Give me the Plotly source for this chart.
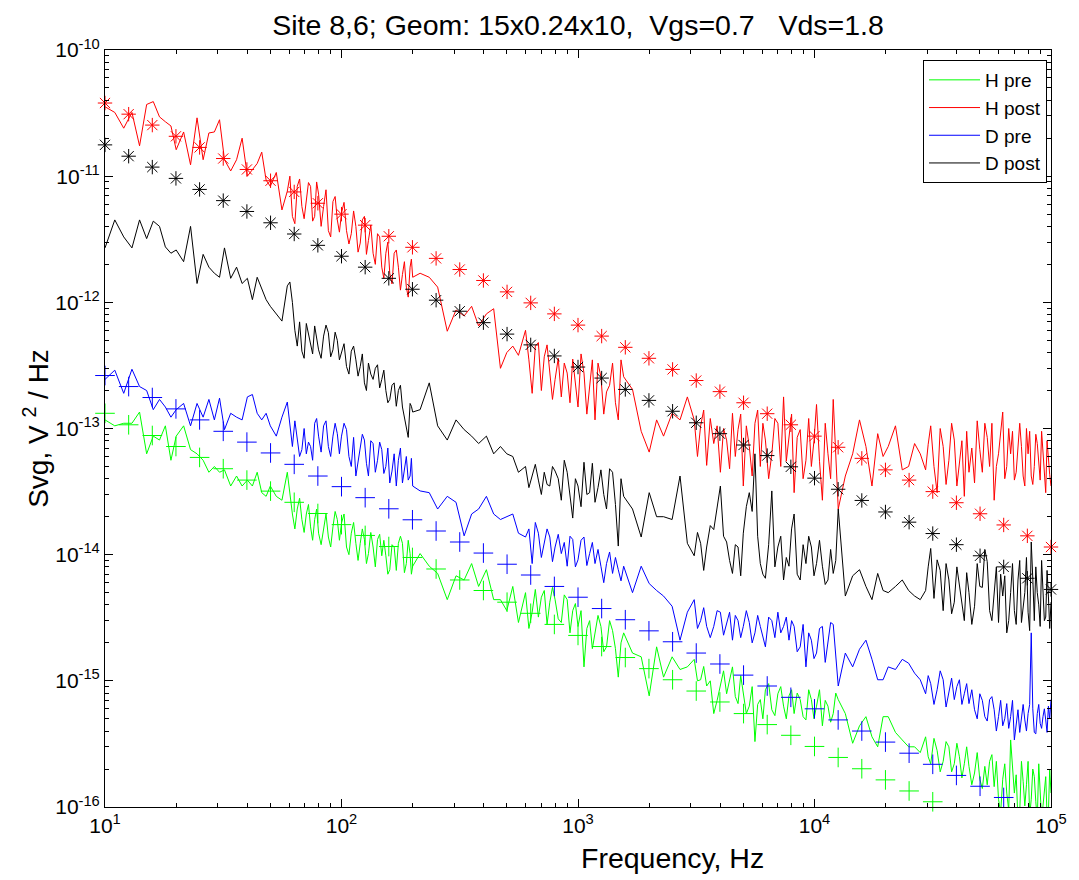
import plotly.graph_objects as go

# ---------------- data ----------------
freq_hz = [
    10, 11, 12, 13, 14, 15, 16, 17, 18, 19,
    20, 21.5, 23, 24.5, 26, 27.5, 29, 30.5, 32, 34,
    36, 38, 40, 42, 44, 46, 48, 50, 53, 56,
    59, 62, 65, 68, 71, 74, 77, 80, 84, 88,
    92, 96, 100, 105, 110, 115, 120, 125, 130, 136,
    142, 148, 154, 160, 167, 174, 181, 188, 195, 200,
    215, 235, 255, 280, 305, 330, 355, 380, 410, 440,
    470, 500, 530, 560, 600, 640, 680, 720, 760, 800,
    850, 900, 950, 1000, 1060, 1120, 1180, 1250, 1320, 1400,
    1480, 1560, 1700, 1850, 2000, 2150, 2300, 2500, 2700, 2900,
    3100, 3300, 3500, 3750, 4000, 4250, 4500, 4750, 5000, 5300,
    5600, 5900, 6200, 6600, 7000, 7400, 7800, 8200, 8700, 9200,
    9700, 10200, 10800, 11400, 12000, 12600, 13500, 14500, 15500, 16500,
    17500, 18500, 19500, 20500, 22000, 23500, 25000, 26500, 28000, 29500,
    31000, 33000, 35000, 37000, 39000, 41000, 43000, 45000, 47500, 50000,
    52500, 55000, 57500, 60000, 62500, 65000, 67500, 70000, 72500, 75000,
    77500, 80000, 82500, 85000, 87500, 90000, 92500, 95000, 97500, 100000,
]

svg_h_pre = [
    1.17e-13, 1.05e-13, 1.1e-13, 1.1e-13, 1.35e-13, 6.3e-14, 8.7e-14, 8.1e-14, 1.05e-13, 5.6e-14,
    8.7e-14, 1.05e-13, 6.8e-14, 6.3e-14, 5.6e-14, 4.5e-14, 5.0e-14, 4.5e-14, 4.7e-14, 3.5e-14,
    4.2e-14, 3.5e-14, 3.9e-14, 3.5e-14, 4.5e-14, 3.1e-14, 2.9e-14, 3.5e-14, 2.9e-14, 2.7e-14,
    4.5e-14, 2.1e-14, 2.3e-14, 1.9e-14, 2.1e-14, 1.66e-14, 1.9e-14, 1.48e-14, 1.66e-14, 1.38e-14,
    1.66e-14, 1.9e-14, 1.78e-14, 1.15e-14, 1.48e-14, 1.23e-14, 1.23e-14, 1.32e-14, 1.02e-14, 1.15e-14,
    1.32e-14, 9.8e-15, 9.8e-15, 7.6e-15, 1.15e-14, 1.23e-14, 1.23e-14, 8.5e-15, 1.02e-14, 8.1e-15,
    1.02e-14, 8.1e-15, 7.1e-15, 4.4e-15, 6.8e-15, 6.3e-15, 8.5e-15, 5.6e-15, 7.6e-15, 4.4e-15,
    4.4e-15, 3.6e-15, 5.6e-15, 2.9e-15, 5.0e-15, 3.5e-15, 3.2e-15, 5.2e-15, 4.2e-15, 4.4e-15,
    2.9e-15, 4.4e-15, 3.6e-15, 2.7e-15, 1.29e-15, 3.0e-15, 2.4e-15, 2.7e-15, 1.86e-15, 2.5e-15,
    1.07e-15, 2.4e-15, 1.66e-15, 1.55e-15, 7.6e-16, 1.86e-15, 1.07e-15, 1.55e-15, 1.23e-15, 1.29e-15,
    1.48e-15, 1.02e-15, 9.1e-16, 5.5e-16, 9.5e-16, 7.9e-16, 1.29e-15, 6.6e-16, 7.9e-16, 6.3e-16,
    3.3e-16, 7.1e-16, 8.5e-16, 5.9e-16, 7.9e-16, 6.3e-16, 7.6e-16, 5.5e-16, 7.1e-16, 4.9e-16,
    7.1e-16, 6.3e-16, 4.4e-16, 6.3e-16, 5.5e-16, 7.1e-16, 5.5e-16, 3.2e-16, 4.4e-16, 5.2e-16,
    3.6e-16, 3.0e-16, 5.2e-16, 5.2e-16, 3.9e-16, 3.4e-16, 3.0e-16, 3.0e-16, 2.7e-16, 3.6e-16,
    2.2e-16, 2.8e-16, 2.3e-16, 3.0e-16, 2.2e-16, 2.5e-16, 2.2e-16, 2.1e-16, 1.86e-16, 1.66e-16,
    2.1e-16, 2.3e-16, 1.45e-16, 1.15e-16, 1.66e-16, 1.29e-16, 3.4e-16, 1.29e-16, 7.9e-17, 2.3e-16,
    1.02e-16, 2.3e-16, 1.15e-16, 1.74e-16, 7.9e-17, 1.45e-16, 1.02e-16, 1.74e-16, 8.9e-17, 1.29e-16,
]

svg_h_post = [
    3.55e-11, 3.2e-11, 2.4e-11, 3.2e-11, 1.74e-11, 3.7e-11, 3.9e-11, 2.95e-11, 2.7e-11, 2.5e-11,
    1.62e-11, 2.24e-11, 1.23e-11, 2.9e-11, 1.35e-11, 2.2e-11, 2.24e-11, 2.8e-11, 1.35e-11, 1.1e-11,
    1.35e-11, 2.0e-11, 1.0e-11, 1.12e-11, 1.26e-11, 1.55e-11, 9.3e-12, 8.3e-12, 1.07e-11, 5.4e-12,
    7.6e-12, 4.8e-12, 8.3e-12, 5.75e-12, 6.5e-12, 8.3e-12, 4.8e-12, 7.2e-12, 5.75e-12, 3.7e-12,
    6.3e-12, 4.5e-12, 5.1e-12, 3.7e-12, 3.5e-12, 4.0e-12, 2.95e-12, 4.8e-12, 3.1e-12, 2.45e-12,
    3.5e-12, 1.9e-12, 2.45e-12, 1.7e-12, 2.45e-12, 1.9e-12, 1.66e-12, 1.32e-12, 1.9e-12, 1.58e-12,
    1.7e-12, 1.58e-12, 1.32e-12, 5.9e-13, 8.7e-13, 7.8e-13, 9.3e-13, 6.5e-13, 8.1e-13, 8.9e-13,
    3.0e-13, 4.0e-13, 4.5e-13, 3.8e-13, 6.0e-13, 1.9e-13, 4.8e-13, 3.7e-13, 2.6e-13, 2.45e-13,
    1.78e-13, 2.75e-13, 3.55e-13, 1.48e-13, 2.75e-13, 2.04e-13, 1.17e-13, 2.57e-13, 1.95e-13, 3.3e-13,
    1.17e-13, 2.57e-13, 2.04e-13, 9.5e-14, 6.5e-14, 1.17e-13, 8.7e-14, 1.32e-13, 1.17e-13, 1.78e-13,
    1.17e-13, 1.05e-13, 5.1e-14, 7.6e-14, 4.5e-14, 8.1e-14, 1.32e-13, 9.8e-14, 3.5e-14, 7.2e-14,
    1.1e-13, 5.0e-14, 8.1e-14, 6.3e-14, 1.1e-13, 1.78e-13, 9.1e-14, 3.1e-14, 9.8e-14, 5.6e-14,
    5.0e-14, 1.55e-13, 2.7e-14, 6.3e-14, 1.7e-13, 2.3e-14, 4.2e-14, 6.3e-14, 1.17e-13, 7.2e-14,
    3.5e-14, 9.1e-14, 6.0e-14, 7.2e-14, 1.05e-13, 4.7e-14, 5.0e-14, 7.6e-14, 6.3e-14, 4.7e-14,
    1.05e-13, 3.1e-14, 7.2e-14, 5.6e-14, 8.1e-14, 5.6e-14, 2.9e-14, 4.5e-14, 3.7e-14, 6.8e-14,
    1.1e-13, 5.0e-14, 2.7e-14, 6.3e-14, 1.35e-13, 5.0e-14, 6.3e-14, 3.9e-14, 7.1e-14, 7.2e-14,
    3.5e-14, 6.3e-14, 4.2e-14, 5.0e-14, 7.6e-14, 3.9e-14, 6.0e-14, 3.1e-14, 5.6e-14, 3.5e-14,
]

svg_d_pre = [
    2.45e-13, 2.9e-13, 1.9e-13, 2.95e-13, 2.15e-13, 2.0e-13, 1.41e-13, 1.7e-13, 1.48e-13, 1.23e-13,
    1.41e-13, 1.58e-13, 1.05e-13, 1.58e-13, 1.23e-13, 1.7e-13, 1.17e-13, 1.74e-13, 9.8e-14, 1.32e-13,
    1.23e-13, 1.17e-13, 1.78e-13, 1.86e-13, 1.32e-13, 1.17e-13, 1.32e-13, 1.05e-13, 8.7e-14, 1.23e-13,
    1.62e-13, 7.2e-14, 8.1e-14, 6.8e-14, 6.3e-14, 7.2e-14, 1.1e-13, 8.7e-14, 1.05e-13, 7.2e-14,
    8.7e-14, 9.1e-14, 8.7e-14, 9.8e-14, 5.0e-14, 4.2e-14, 6.8e-14, 8.1e-14, 4.2e-14, 7.6e-14,
    5.6e-14, 6.8e-14, 5.0e-14, 3.7e-14, 6.3e-14, 5.6e-14, 3.7e-14, 6.0e-14, 4.2e-14, 3.5e-14,
    3.2e-14, 3.1e-14, 2.3e-14, 2.9e-14, 2.6e-14, 1.41e-14, 2.1e-14, 2.3e-14, 2.9e-14, 2.1e-14,
    1.9e-14, 2.0e-14, 2.1e-14, 1.48e-14, 1.38e-14, 8.5e-15, 1.48e-14, 1.23e-14, 1.38e-14, 1.15e-14,
    1.02e-14, 8.1e-15, 1.32e-14, 9.1e-15, 1.38e-14, 1.02e-14, 8.5e-15, 8.1e-15, 8.5e-15, 7.1e-15,
    7.6e-15, 8.1e-15, 5.0e-15, 8.1e-15, 5.9e-15, 5.2e-15, 4.7e-15, 3.9e-15, 2.1e-15, 3.5e-15,
    4.4e-15, 3.0e-15, 2.7e-15, 2.7e-15, 3.5e-15, 2.9e-15, 2.1e-15, 3.0e-15, 2.7e-15, 2.9e-15,
    2.4e-15, 2.7e-15, 1.86e-15, 3.0e-15, 3.5e-15, 2.7e-15, 2.1e-15, 2.7e-15, 1.86e-15, 1.29e-15,
    2.1e-15, 1.66e-15, 2.7e-15, 2.0e-15, 2.8e-15, 9.1e-16, 1.66e-15, 1.29e-15, 1.78e-15, 2.1e-15,
    1.48e-15, 1.02e-15, 1.02e-15, 1.29e-15, 1.23e-15, 1.48e-15, 1.38e-15, 1.15e-15, 1.02e-15, 7.9e-16,
    9.5e-16, 8.5e-16, 1.02e-15, 7.9e-16, 7.1e-16, 1.02e-15, 7.9e-16, 6.6e-16, 5.9e-16, 7.9e-16,
    5.2e-16, 7.1e-16, 5.9e-16, 5.2e-16, 4.4e-16, 6.6e-16, 5.2e-16, 3.4e-16, 5.9e-16, 5.2e-16,
    4.9e-16, 5.5e-16, 2.4e-15, 3.9e-16, 5.5e-16, 4.6e-16, 5.2e-16, 4.9e-16, 6.3e-16, 7.1e-16,
]

svg_d_post = [
    2.7e-12, 4.5e-12, 3.3e-12, 2.7e-12, 4.5e-12, 3.2e-12, 4.4e-12, 4.0e-12, 2.75e-12, 2.45e-12,
    2.6e-12, 2.1e-12, 4.0e-12, 1.41e-12, 2.4e-12, 1.9e-12, 1.7e-12, 1.58e-12, 2.7e-12, 1.55e-12,
    1.9e-12, 1.41e-12, 1.55e-12, 1.05e-12, 1.58e-12, 1.26e-12, 1.05e-12, 9.3e-13, 8.1e-13, 7.1e-13,
    1.35e-12, 1.0e-12, 4.5e-13, 4.1e-13, 6.8e-13, 4.8e-13, 6.5e-13, 4.2e-13, 5.4e-13, 5.75e-13,
    4.2e-13, 5.0e-13, 4.0e-13, 3.1e-13, 4.1e-13, 3.5e-13, 3.1e-13, 2.3e-13, 3.3e-13, 2.45e-13,
    3.2e-13, 2.45e-13, 2.0e-13, 1.7e-13, 2.3e-13, 2.0e-13, 1.48e-13, 9.8e-14, 1.58e-13, 1.35e-13,
    1.41e-13, 2.3e-13, 1.05e-13, 8.1e-14, 1.17e-13, 9.8e-14, 8.7e-14, 7.6e-14, 8.7e-14, 6.3e-14,
    7.2e-14, 6.3e-14, 6.0e-14, 4.5e-14, 5.0e-14, 4.2e-14, 3.9e-14, 4.5e-14, 3.5e-14, 4.6e-14,
    2.7e-14, 4.5e-14, 1.95e-14, 3.5e-14, 5.4e-14, 3.1e-14, 2.6e-14, 4.7e-14, 2.3e-14, 4.5e-14,
    1.17e-14, 2.9e-14, 2.3e-14, 1.38e-14, 3.1e-14, 2.0e-14, 2.0e-14, 1.9e-14, 4.2e-14, 1.23e-14,
    9.8e-15, 1.23e-14, 1.15e-14, 1.58e-14, 3.5e-14, 1.26e-14, 7.1e-15, 1.15e-14, 1.48e-14, 3.1e-14,
    6.3e-14, 8.5e-15, 6.5e-15, 3.2e-14, 1.15e-14, 6.3e-15, 8.1e-15, 2.1e-14, 6.3e-15, 8.5e-15,
    1.15e-14, 8.5e-15, 8.1e-15, 6.3e-15, 7.1e-15, 2.3e-14, 4.7e-15, 6.8e-15, 7.6e-15, 5.6e-15,
    4.4e-15, 7.1e-15, 5.2e-15, 5.0e-15, 5.6e-15, 6.3e-15, 5.2e-15, 4.7e-15, 4.4e-15, 5.2e-15,
    1.12e-14, 9.1e-15, 3.6e-15, 6.3e-15, 4.2e-15, 5.6e-15, 3.0e-15, 5.0e-15, 3.9e-15, 5.6e-15,
    1.1e-14, 3.6e-15, 5.2e-15, 2.9e-15, 4.7e-15, 2.4e-15, 5.0e-15, 3.6e-15, 6.3e-15, 2.9e-15,
    5.0e-15, 3.5e-15, 1.26e-14, 3.0e-15, 5.0e-15, 2.7e-15, 5.6e-15, 3.2e-15, 4.7e-15, 4.2e-15,
]

# additional spectrum bins read in the densely sampled stretches
freq_hz_extra = [
    60.5, 63.5, 66.5, 69.5, 72.5, 75.5, 78.5, 82, 86, 90,
    94, 98, 102.5, 107.5, 112.5, 117.5, 122.5, 127.5, 133, 139,
    145, 151, 157, 163.5, 170.5, 177.5, 184.5, 191.5, 197.5,
    620, 660, 700, 740, 780, 825, 875, 925, 975, 1030,
    1090, 1150, 1215, 1285, 1360, 1440, 1520,
    3200, 3400, 3625, 3875, 4125, 4375, 4625, 4875, 5150, 5450,
    5750, 6050, 6400, 6800, 7200, 7600, 8000, 8450, 8950, 9450,
    9950, 10500, 11100, 11700, 12300,
    30250, 32000, 34000, 36000, 38000, 40000, 42000, 44000, 46250, 48750,
    51250, 53750, 56250, 58750, 61250, 63750, 66250, 68750, 71250, 73750,
    76250, 78750, 81250, 83750, 86250, 88750, 91250, 93750, 96250, 98750,
]
svg_h_pre_extra = [
    3.0e-14, 1.6e-14, 2.8e-14, 1.5e-14, 2.5e-14, 1.3e-14, 2.3e-14, 1.2e-14, 2.1e-14, 1.15e-14,
    2.2e-14, 1.3e-14, 2.1e-14, 1.0e-14, 1.8e-14, 9.0e-15, 1.6e-14, 8.5e-15, 1.5e-14, 8.0e-15,
    1.45e-14, 1.3e-14, 7.0e-15, 1.2e-14, 7.5e-15, 1.4e-14, 7.2e-15, 1.3e-14, 7.0e-15,
    2.6e-15, 5.3e-15, 4.6e-15, 2.8e-15, 5.5e-15, 3.1e-15, 4.8e-15, 2.4e-15, 4.1e-15, 3.6e-15,
    2.6e-15, 1.8e-15, 3.3e-15, 1.7e-15, 3.0e-15, 1.8e-15, 2.0e-15,
    1.0e-15, 1.3e-15, 1.0e-15, 7.0e-16, 1.2e-15, 1.0e-15, 7.5e-16, 1.1e-15, 5.5e-16, 9.0e-16,
    6.5e-16, 5.0e-16, 9.5e-16, 5.3e-16, 9.0e-16, 5.0e-16, 8.5e-16, 8.0e-16, 5.2e-16, 8.5e-16,
    5.0e-16, 8.5e-16, 7.0e-16, 4.7e-16, 8.0e-16,
    2.5e-16, 3.5e-16, 1.9e-16, 3.3e-16, 1.9e-16, 3.2e-16, 1.7e-16, 3.0e-16, 1.5e-16, 2.7e-16,
    1.4e-16, 1.5e-16, 2.6e-16, 2.3e-16, 9.0e-17, 2.2e-16, 9.5e-17, 2.1e-16, 1.8e-16, 9.0e-17,
    1.6e-16, 1.5e-16, 8.5e-17, 2.0e-16, 1.1e-16, 2.2e-16, 8.0e-17, 1.3e-16, 8.5e-17, 2.0e-16,
]
svg_h_post_extra = [
    1.0e-11, 4.2e-12, 9.5e-12, 4.6e-12, 8.9e-12, 4.4e-12, 9.0e-12, 4.0e-12, 7.8e-12, 3.3e-12,
    6.9e-12, 3.6e-12, 6.2e-12, 2.9e-12, 5.3e-12, 2.5e-12, 4.5e-12, 2.4e-12, 4.1e-12, 2.0e-12,
    3.3e-12, 1.55e-12, 3.0e-12, 1.4e-12, 2.6e-12, 1.25e-12, 2.1e-12, 1.1e-12, 2.2e-12,
    3.5e-13, 4.5e-13, 2.0e-13, 4.6e-13, 1.7e-13, 3.6e-13, 3.3e-13, 1.6e-13, 2.2e-13, 3.9e-13,
    1.3e-13, 3.5e-13, 3.3e-13, 1.3e-13, 2.2e-13, 1.6e-13, 3.5e-13,
    6.0e-14, 1.4e-13, 1.2e-13, 1.05e-13, 1.0e-13, 4.8e-14, 6.0e-14, 1.3e-13, 1.05e-13, 4.2e-14,
    1.4e-13, 1.1e-13, 4.0e-14, 1.2e-13, 5.0e-14, 5.5e-14, 1.3e-13, 8.5e-14, 4.0e-14, 1.2e-13,
    8.0e-14, 5.5e-14, 1.1e-13, 4.0e-14, 6.5e-14,
    7.5e-14, 5.0e-14, 1.0e-13, 3.6e-14, 1.1e-13, 3.5e-14, 8.0e-14, 9.5e-14, 7.0e-14, 1.15e-13,
    4.5e-14, 8.5e-14, 1.1e-13, 5.0e-14, 9.0e-14, 4.0e-14, 1.0e-13, 9.5e-14, 4.5e-14, 1.1e-13,
    4.2e-14, 1.0e-13, 9.5e-14, 3.6e-14, 9.0e-14, 5.0e-14, 9.5e-14, 4.5e-14, 8.0e-14, 4.3e-14,
]
svg_d_pre_extra = [
    1.0e-13, 1.15e-13, 6.0e-14, 1.0e-13, 7.8e-14, 5.6e-14, 1.2e-13, 6.5e-14, 1.15e-13, 6.0e-14,
    1.1e-13, 6.3e-14, 1.1e-13, 6.0e-14, 8.5e-14, 5.5e-14, 9.0e-14, 5.3e-14, 8.0e-14, 4.5e-14,
    7.8e-14, 4.4e-14, 7.0e-14, 4.6e-14, 3.5e-14, 7.0e-14, 4.8e-14, 3.9e-14, 5.8e-14,
    1.6e-14, 1.8e-14, 9.5e-15, 1.6e-14, 8.8e-15, 1.45e-14, 1.25e-14, 1.4e-14, 8.0e-15, 1.3e-14,
    8.2e-15, 1.25e-14, 1.1e-14, 6.0e-15, 1.05e-14, 9.5e-15, 6.2e-15,
    2.6e-15, 3.8e-15, 2.2e-15, 3.6e-15, 2.3e-15, 3.5e-15, 3.3e-15, 2.2e-15, 3.6e-15, 2.0e-15,
    3.3e-15, 2.2e-15, 3.2e-15, 2.2e-15, 2.4e-15, 3.2e-15, 3.0e-15, 1.7e-15, 2.8e-15, 2.4e-15,
    1.5e-15, 2.6e-15, 1.4e-15, 2.9e-15, 1.6e-15,
    1.1e-15, 6.5e-16, 1.2e-15, 6.2e-16, 1.05e-15, 9.0e-16, 6.5e-16, 9.5e-16, 8.5e-16, 5.0e-16,
    7.0e-16, 4.8e-16, 7.5e-16, 4.0e-16, 7.0e-16, 5.0e-16, 4.2e-16, 7.0e-16, 4.5e-16, 3.9e-16,
    6.5e-16, 4.0e-16, 6.5e-16, 6.0e-16, 3.8e-16, 6.5e-16, 4.2e-16, 6.0e-16, 3.9e-16, 5.0e-16,
]
svg_d_post_extra = [
    1.45e-12, 6.0e-13, 7.0e-13, 3.6e-13, 5.5e-13, 3.9e-13, 5.3e-13, 3.6e-13, 6.6e-13, 3.7e-13,
    5.8e-13, 3.5e-13, 4.7e-13, 2.7e-13, 4.5e-13, 2.6e-13, 3.9e-13, 2.0e-13, 2.7e-13, 3.0e-13,
    2.1e-13, 2.9e-13, 1.6e-13, 2.2e-13, 1.5e-13, 2.2e-13, 1.2e-13, 8.5e-14, 1.5e-13,
    3.4e-14, 5.2e-14, 3.0e-14, 3.6e-14, 5.0e-14, 4.0e-14, 5.6e-14, 3.0e-14, 4.0e-14, 2.4e-14,
    3.0e-14, 5.3e-14, 3.4e-14, 3.0e-14, 4.8e-14, 2.5e-14, 4.0e-14,
    1.5e-14, 7.5e-15, 1.7e-14, 2.4e-14, 1.4e-14, 9.0e-15, 1.2e-14, 6.8e-15, 2.4e-14, 2.2e-14,
    1.4e-14, 7.0e-15, 1.2e-14, 8.0e-15, 1.4e-14, 9.5e-15, 1.6e-14, 7.0e-15, 1.2e-14, 1.4e-14,
    6.8e-15, 1.3e-14, 5.8e-15, 1.1e-14, 9.0e-15,
    8.0e-15, 4.5e-15, 7.5e-15, 8.5e-15, 3.4e-15, 8.0e-15, 3.8e-15, 7.2e-15, 2.8e-15, 8.5e-15,
    5.5e-15, 8.8e-15, 3.0e-15, 8.0e-15, 7.0e-15, 6.8e-15, 3.0e-15, 8.5e-15, 2.8e-15, 9.0e-15,
    4.0e-15, 9.5e-15, 2.5e-15, 6.5e-15, 8.0e-15, 4.0e-15, 9.0e-15, 3.0e-15, 7.5e-15, 2.6e-15,
]

# fitted 1/f^gamma marker series (10 points per decade)
fit_freq_hz = [
    10, 12.59, 15.85, 19.95, 25.12, 31.62, 39.81, 50.12, 63.1, 79.43,
    100, 125.9, 158.5, 199.5, 251.2, 316.2, 398.1, 501.2, 631, 794.3,
    1000, 1259, 1585, 1995, 2512, 3162, 3981, 5012, 6310, 7943,
    10000, 12589, 15849, 19953, 25119, 31623, 39811, 50119, 63096, 79433,
    100000,
]
fit_h_post = [
    3.80e-11, 3.10e-11, 2.54e-11, 2.07e-11, 1.69e-11, 1.38e-11, 1.13e-11, 9.2e-12, 7.5e-12, 6.1e-12,
    5.0e-12, 4.09e-12, 3.34e-12, 2.73e-12, 2.23e-12, 1.82e-12, 1.49e-12, 1.21e-12, 9.9e-13, 8.1e-13,
    6.6e-13, 5.4e-13, 4.4e-13, 3.6e-13, 2.94e-13, 2.40e-13, 1.96e-13, 1.60e-13, 1.31e-13, 1.07e-13,
    8.7e-14, 7.1e-14, 5.8e-14, 4.7e-14, 3.9e-14, 3.16e-14, 2.58e-14, 2.11e-14, 1.72e-14, 1.41e-14,
    1.15e-14,
]
fit_d_post = [
    1.77e-11, 1.44e-11, 1.18e-11, 9.6e-12, 7.85e-12, 6.4e-12, 5.25e-12, 4.27e-12, 3.48e-12, 2.83e-12,
    2.32e-12, 1.90e-12, 1.55e-12, 1.27e-12, 1.04e-12, 8.5e-13, 6.9e-13, 5.6e-13, 4.6e-13, 3.76e-13,
    3.07e-13, 2.51e-13, 2.04e-13, 1.67e-13, 1.37e-13, 1.11e-13, 9.1e-14, 7.4e-14, 6.1e-14, 4.97e-14,
    4.04e-14, 3.30e-14, 2.69e-14, 2.18e-14, 1.81e-14, 1.47e-14, 1.20e-14, 9.8e-15, 8.0e-15, 6.5e-15,
    5.3e-15,
]
fit_d_pre = [
    2.63e-13, 2.15e-13, 1.76e-13, 1.43e-13, 1.17e-13, 9.5e-14, 7.8e-14, 6.4e-14, 5.2e-14, 4.2e-14,
    3.46e-14, 2.83e-14, 2.31e-14, 1.89e-14, 1.54e-14, 1.26e-14, 1.03e-14, 8.4e-15, 6.9e-15, 5.6e-15,
    4.6e-15, 3.74e-15, 3.05e-15, 2.49e-15, 2.04e-15, 1.66e-15, 1.36e-15, 1.11e-15, 9.1e-16, 7.4e-16,
    6.0e-16, 4.9e-16, 4.0e-16, 3.27e-16, 2.67e-16, 2.18e-16, 1.78e-16, 1.46e-16, 1.19e-16,
]
fit_h_pre = [
    1.32e-13, 1.07e-13, 8.8e-14, 7.2e-14, 5.9e-14, 4.8e-14, 3.9e-14, 3.19e-14, 2.60e-14, 2.12e-14,
    1.73e-14, 1.42e-14, 1.16e-14, 9.5e-15, 7.7e-15, 6.3e-15, 5.2e-15, 4.2e-15, 3.43e-15, 2.80e-15,
    2.29e-15, 1.87e-15, 1.53e-15, 1.25e-15, 1.02e-15, 8.3e-16, 6.8e-16, 5.5e-16, 4.5e-16, 3.7e-16,
    3.02e-16, 2.47e-16, 2.01e-16, 1.64e-16, 1.34e-16, 1.10e-16,
]

x_major = [1e1, 1e2, 1e3, 1e4, 1e5]
x_labels = ["10<sup>1</sup>", "10<sup>2</sup>", "10<sup>3</sup>", "10<sup>4</sup>", "10<sup>5</sup>"]
y_major = [1e-16, 1e-15, 1e-14, 1e-13, 1e-12, 1e-11, 1e-10]
y_labels = ["10<sup>-16</sup>", "10<sup>-15</sup>", "10<sup>-14</sup>", "10<sup>-13</sup>",
            "10<sup>-12</sup>", "10<sup>-11</sup>", "10<sup>-10</sup>"]

for arr in (svg_h_pre, svg_h_post, svg_d_pre, svg_d_post):
    assert len(arr) == len(freq_hz), len(arr)
for arr in (svg_h_pre_extra, svg_h_post_extra, svg_d_pre_extra, svg_d_post_extra):
    assert len(arr) == len(freq_hz_extra), len(arr)


def merge(ys, ys_extra):
    pts = sorted(zip(freq_hz + freq_hz_extra, ys + ys_extra))
    return [p[0] for p in pts], [p[1] for p in pts]


# ---------------- figure ----------------
FONT = "Arial, Liberation Sans, sans-serif"
fig = go.Figure()

line_series = [
    ("H pre", svg_h_pre, svg_h_pre_extra, "#00ff00"),
    ("H post", svg_h_post, svg_h_post_extra, "#ff0000"),
    ("D pre", svg_d_pre, svg_d_pre_extra, "#0000ff"),
    ("D post", svg_d_post, svg_d_post_extra, "#000000"),
]
for name, ys, ys_extra, col in line_series:
    xs, yv = merge(ys, ys_extra)
    fig.add_trace(go.Scatter(x=xs, y=yv, mode="lines", name=name,
                             line=dict(color=col, width=1)))

marker_series = [
    (fit_h_post, "#ff0000", "asterisk-open", 12),
    (fit_d_post, "#000000", "asterisk-open", 12),
    (fit_d_pre, "#0000ff", "cross-thin-open", 14),
    (fit_h_pre, "#00ff00", "cross-thin-open", 14),
]
for ys, col, sym, sz in marker_series:
    fig.add_trace(go.Scatter(x=fit_freq_hz[:len(ys)], y=ys, mode="markers", showlegend=False,
                             cliponaxis=False,
                             marker=dict(symbol=sym, size=sz, color=col,
                                         line=dict(color=col, width=1))))

x_minor = [d * 10 ** k for k in range(1, 5) for d in range(2, 10)]
y_minor = [d * 10.0 ** k for k in range(-16, -10) for d in range(2, 10)]

axis_common = dict(
    type="log", showgrid=False, zeroline=False, showline=True, linecolor="black",
    linewidth=1, mirror="ticks", ticks="inside", ticklen=8, tickwidth=1, tickcolor="black",
    tickmode="array", ticklabeloverflow="allow",
    tickfont=dict(family=FONT, size=21, color="black"),
)
fig.update_xaxes(**axis_common, range=[1, 5], tickvals=x_major, ticktext=x_labels,
                 minor=dict(tickmode="array", tickvals=x_minor, ticks="inside", ticklen=4,
                            tickcolor="black", showgrid=False))
fig.update_yaxes(**axis_common, range=[-16, -10], tickvals=y_major, ticktext=y_labels,
                 minor=dict(tickmode="array", tickvals=y_minor, ticks="inside", ticklen=4,
                            tickcolor="black", showgrid=False))

fig.update_layout(
    width=1079, height=880,
    margin=dict(l=105, r=23, t=50, b=73),
    paper_bgcolor="white", plot_bgcolor="white",
    font=dict(family=FONT, color="black"),
    title=dict(text="Site 8,6; Geom: 15x0.24x10,\u00a0\u00a0Vgs=0.7\u00a0\u00a0\u00a0Vds=1.8",
               x=0.5, xref="paper", xanchor="center", y=1 - 25 / 880, yanchor="middle",
               font=dict(family=FONT, size=28.5, color="black")),
    legend=dict(x=(1052 - 105) / 951, y=(807 - 60) / 757, xanchor="right", yanchor="top",
                itemwidth=51, bgcolor="white", bordercolor="black", borderwidth=1,
                font=dict(family=FONT, size=19, color="black")),
    annotations=[
        dict(text="Frequency, Hz", xref="paper", yref="paper", x=(675 - 105) / 951,
             y=(807 - 858) / 757, xanchor="center", yanchor="middle", showarrow=False,
             font=dict(family=FONT, size=28.5, color="black")),
        dict(text="Svg, V <sup>2</sup> / Hz", xref="paper", yref="paper", x=(35 - 105) / 951,
             y=0.5, xanchor="center", yanchor="middle", showarrow=False, textangle=-90,
             font=dict(family=FONT, size=28, color="black")),
    ],
)

# remove the browser's default 8px body margin so the figure fills the window exactly
fig.write_html("out.html", config={"displayModeBar": False},
               post_script="document.body.style.margin='0px';")
